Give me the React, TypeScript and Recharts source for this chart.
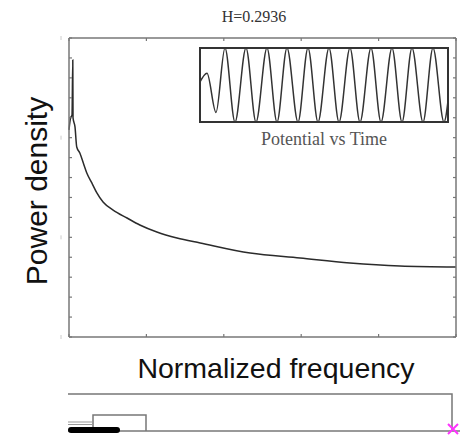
import React from 'react';
import { LineChart, Line, XAxis, YAxis } from 'recharts';

// spectrum: normalized frequency vs power density
const freq = [0, 0.004, 0.0078, 0.0098, 0.0104, 0.0155, 0.02, 0.028, 0.037, 0.046, 0.059, 0.072, 0.088, 0.114, 0.15, 0.183, 0.227, 0.279, 0.339, 0.468, 0.597, 0.726, 0.855, 1.0];
const power = [10.39, 10.99, 11.14, 13.9, 11.0, 10.54, 9.53, 9.23, 8.73, 8.23, 7.73, 7.23, 6.77, 6.37, 5.97, 5.62, 5.27, 4.97, 4.72, 4.21, 3.96, 3.71, 3.56, 3.51];

const freqTicks = [0, 0.2, 0.4, 0.6, 0.8, 1];
const powerTicks = [0, 1, 2, 3, 4, 5, 6, 7, 8, 9, 10, 11, 12, 13, 14, 15];

// inset: potential vs time
const insetTime = [0, 8, 17, 26, 36, 47, 57, 68, 78, 88, 99, 109, 119, 130, 140, 151, 161, 172, 182, 193, 203, 213, 224, 234, 245, 250];
const insetPotential = [0.03, 0.32, -0.74, 1, -1, 1, -1, 1, -1, 1, -1, 1, -1, 1, -1, 1, -1, 1, -1, 1, -1, 1, -1, 1, -1, -0.2];

const spectrum = freq.map((f, i) => ({ f, p: power[i] }));
const potential = insetTime.map((t, i) => ({ t, v: insetPotential[i] }));

const AXIS = '#777';
const TICK_LEN = 3;

const BottomTick = (props: any) => (
  <line x1={props.x} y1={props.y} x2={props.x} y2={props.y - TICK_LEN} stroke={AXIS} strokeWidth={1.2} />
);
const TopTick = (props: any) => (
  <line x1={props.x} y1={props.y} x2={props.x} y2={props.y + TICK_LEN} stroke={AXIS} strokeWidth={1.2} />
);
const LeftTick = (props: any) => (
  <g>
    <line x1={props.x} y1={props.y} x2={props.x + TICK_LEN} y2={props.y} stroke={AXIS} strokeWidth={1.2} />
    {props.payload.value % 5 === 0 && (
      <line x1={props.x - 8} y1={props.y - 2} x2={props.x - 8} y2={props.y + 2} stroke="#ccc" strokeWidth={1} />
    )}
  </g>
);
const RightTick = (props: any) => (
  <line x1={props.x} y1={props.y} x2={props.x - TICK_LEN} y2={props.y} stroke={AXIS} strokeWidth={1.2} />
);

export default function App() {
  return (
    <div style={{ position: 'absolute', left: 0, top: 0, width: 460, height: 444, background: '#fff' }}>
      <LineChart width={460} height={444} data={spectrum} margin={{ top: 37, right: 3, bottom: 106, left: 68 }}>
        <XAxis xAxisId="b" dataKey="f" type="number" domain={[0, 1]} ticks={freqTicks} interval={0}
          height={1} tickSize={0} tickMargin={0} tickLine={false} tick={<BottomTick />}
          axisLine={{ stroke: AXIS, strokeWidth: 1.5 }} />
        <XAxis xAxisId="t" dataKey="f" orientation="top" type="number" domain={[0, 1]} ticks={freqTicks} interval={0}
          height={1} tickSize={0} tickMargin={0} tickLine={false} tick={<TopTick />}
          axisLine={{ stroke: AXIS, strokeWidth: 1.5 }} />
        <YAxis yAxisId="l" type="number" domain={[0, 15]} ticks={powerTicks} interval={0}
          width={1} tickSize={0} tickMargin={0} tickLine={false} tick={<LeftTick />}
          axisLine={{ stroke: AXIS, strokeWidth: 1.5 }} />
        <YAxis yAxisId="r" orientation="right" type="number" domain={[0, 15]} ticks={powerTicks} interval={0}
          width={1} tickSize={0} tickMargin={0} tickLine={false} tick={<RightTick />}
          axisLine={{ stroke: AXIS, strokeWidth: 1.5 }} />
        {/* twin of the curve on the top/right axes so those scales get set up; drawn with no stroke */}
        <Line xAxisId="t" yAxisId="r" dataKey="p" type="monotone" stroke="none" dot={false}
          activeDot={false} isAnimationActive={false} />
        <Line xAxisId="b" yAxisId="l" dataKey="p" type="monotone" stroke="#2b2b2b" strokeWidth={1.5}
          dot={false} isAnimationActive={false} />
      </LineChart>

      {/* inset waveform */}
      <div style={{ position: 'absolute', left: 199, top: 47, width: 250, height: 76, background: '#fff' }}>
        <LineChart width={250} height={76} data={potential} margin={{ top: 1, right: 0, bottom: 1, left: 0 }}>
          <XAxis dataKey="t" type="number" domain={[0, 250]} hide />
          <YAxis type="number" domain={[-1, 1]} hide />
          <Line dataKey="v" type="monotone" stroke="#333" strokeWidth={1.5} dot={false} isAnimationActive={false} />
        </LineChart>
        <div style={{ position: 'absolute', inset: 0, border: '2px solid #333', boxSizing: 'border-box' }} />
      </div>

      <svg width={460} height={444} style={{ position: 'absolute', left: 0, top: 0, pointerEvents: 'none' }}>
        <text x={254} y={22} textAnchor="middle" fontFamily="'Liberation Serif', serif" fontSize={16} fill="#333">
          H=0.2936
        </text>
        <text x={324} y={145} textAnchor="middle" fontFamily="'Liberation Serif', serif" fontSize={18} fill="#555">
          Potential vs Time
        </text>
        <text x={47} y={191} transform="rotate(-90 47 191)" textAnchor="middle"
          fontFamily="'Liberation Sans', Arial, sans-serif" fontSize={30} fill="#111">
          Power density
        </text>
        <text x={276} y={378} textAnchor="middle" fontFamily="'Liberation Sans', Arial, sans-serif" fontSize={28.5} fill="#111">
          Normalized frequency
        </text>

        {/* range strip below the plot */}
        <polyline points="68,394 452,394 452,431" fill="none" stroke={AXIS} strokeWidth={1.5} />
        <line x1={68} y1={431} x2={460} y2={431} stroke={AXIS} strokeWidth={1.5} />
        <polyline points="93,431 93,415 146,415 146,431" fill="none" stroke={AXIS} strokeWidth={1.5} />
        <line x1={68} y1={422} x2={93} y2={422} stroke="#999" strokeWidth={1} />
        <line x1={68} y1={424.5} x2={93} y2={424.5} stroke="#999" strokeWidth={1} />
        <rect x={68} y={427} width={52} height={6} rx={3} fill="#000" />
        <path d="M448,424 L458,434 M458,424 L448,434" stroke="#ff33ff" strokeWidth={2} />
      </svg>
    </div>
  );
}
